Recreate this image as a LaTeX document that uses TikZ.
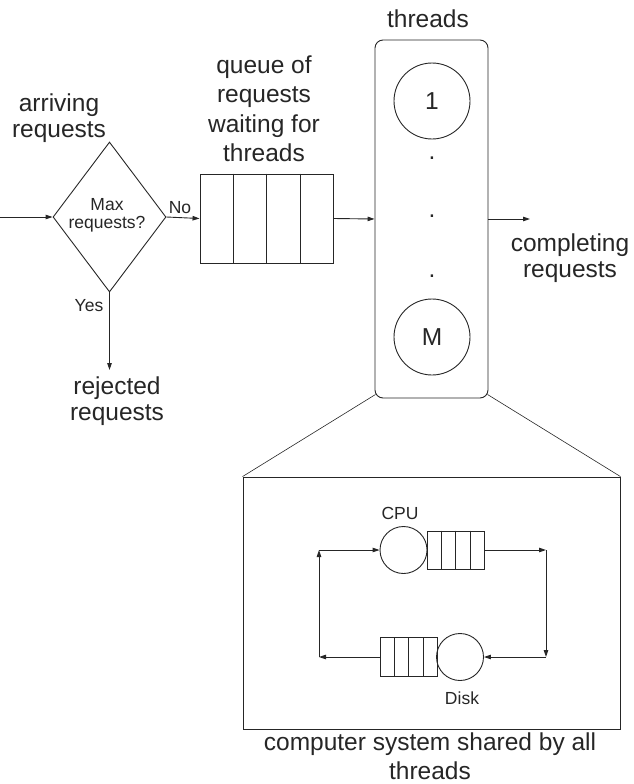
\documentclass[tikz,border=0pt]{standalone}
\usepackage{fontspec}
\setmainfont{Liberation Sans}
\usetikzlibrary{shapes.geometric,arrows.meta,calc}
\definecolor{ink}{HTML}{262626}
\begin{document}
\begin{tikzpicture}[x=1pt,y=-1pt,
  color=ink, line width=0.9pt,
  big/.style={font=\fontsize{24.5}{26}\selectfont, align=center, inner sep=0},
  bigwide/.style={font=\fontsize{24.5}{29.5}\selectfont, align=center, inner sep=0},
  small/.style={font=\fontsize{17.5}{18.5}\selectfont, align=center, inner sep=0},
  arr/.style={-{Triangle[length=7pt,width=4.5pt]}},
  box/.style={draw, rectangle, inner sep=0},
  ring/.style={draw, circle, inner sep=0}]
\useasboundingbox (0,0) rectangle (633,784);

% decision
\node[draw, diamond, inner sep=0, minimum width=113pt, minimum height=150pt] (dia) at (109.5,217) {};
\node[small] (diatext) at (107,215.5) {Max\\requests?};
\node[big] (arriving) at (59,118) {arriving\\requests};
\coordinate (in) at (0,217);
\draw[arr] (in) -- (dia.west);

% queue of requests
\node[box, minimum width=133pt, minimum height=89pt] (q) at (266.5,218.5) {};
\foreach \i in {1,2,3}
  \draw ($(q.north west)!\i/4!(q.north east)$) -- ($(q.south west)!\i/4!(q.south east)$);
\node[bigwide] (qlabel) at (264,109) {queue of\\requests\\waiting for\\threads};
\draw[arr] (dia.east) -- (q.west);
\node[small] (no) at (180,208) {No};

% rejected
\coordinate (rej) at (109.5,370);
\draw[arr] (dia.south) -- (rej);
\node[small] (yes) at (89,306) {Yes};
\node[big] (rejected) at (117,401) {rejected\\requests};

% threads box
\node[box, rounded corners=8pt, minimum width=113pt, minimum height=358pt] (tbox) at (431.5,219) {};
\node[big] (tlabel) at (428,19) {threads};
\node[ring, minimum size=76pt, big] (t1) at (432,101) {1};
\node[ring, minimum size=76pt, big] (tM) at (432,337) {M};
\node[big, anchor=base] (d1) at (432,159) {.};
\node[big, anchor=base] (d2) at (432,217) {.};
\node[big, anchor=base] (d3) at (432,277) {.};
\draw[arr] (q.east) -- (tbox.west);
\coordinate (out) at (530,219);
\draw[arr] (tbox.east) -- (out);
\node[big] (completing) at (570,258.5) {completing\\requests};

% zoom lines and system box
\node[box, minimum width=377pt, minimum height=252pt] (sys) at (431.5,603) {};
\draw[line width=0.6pt] ($(tbox.south west)+(1,-4)$) -- (sys.north west);
\draw[line width=0.6pt] ($(tbox.south east)+(-1,-4)$) -- (sys.north east);
\node[font=\fontsize{24.5}{29}\selectfont, align=center, inner sep=0] (caption) at (430,756) {computer system shared by all\\threads};

% inner loop
\node[ring, minimum size=47pt] (cpu) at (403.5,550) {};
\node[box, minimum width=57pt, minimum height=38pt] (cq) at (455.5,550) {};
\foreach \i in {1,2,3}
  \draw ($(cq.north west)!\i/4!(cq.north east)$) -- ($(cq.south west)!\i/4!(cq.south east)$);
\node[small] (cpulabel) at (400,513) {CPU};

\node[ring, minimum size=47pt] (disk) at (460,657) {};
\node[box, minimum width=57pt, minimum height=39pt] (dq) at (408.5,657) {};
\foreach \i in {1,2,3}
  \draw ($(dq.north west)!\i/4!(dq.north east)$) -- ($(dq.south west)!\i/4!(dq.south east)$);
\node[small] (disklabel) at (462,698) {Disk};

\coordinate (c1) at (319,550);
\coordinate (c2) at (546,550);
\coordinate (c3) at (546,657);
\coordinate (c4) at (319,657);
\draw[arr] (c1) -- (cpu.west);
\draw[arr] (cq.east) -- (c2);
\draw[arr] (c2) -- (c3);
\draw[arr] (c3) -- (disk.east);
\draw[arr] (dq.west) -- (c4);
\draw[arr] (c4) -- (c1);
\end{tikzpicture}
\end{document}
